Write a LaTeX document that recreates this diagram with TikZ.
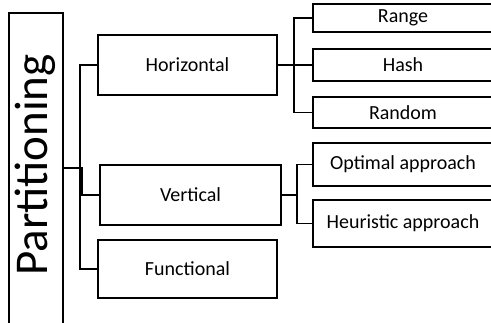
\documentclass[tikz,border=0pt]{standalone}
\usepackage{fontspec}
\setmainfont{Carlito}
\begin{document}
\begin{tikzpicture}[x=1pt,y=-1pt,line width=1.7pt,
  box/.style={draw,line width=1.7pt,inner sep=0pt,font=\fontsize{20}{23}\selectfont},
  conn/.style={line width=1.7pt}]
\useasboundingbox (0,0) rectangle (491,322);
\clip (0,0) rectangle (491,322);
% root
\node[draw,line width=1.7pt,minimum width=54pt,minimum height=340pt,anchor=north west,inner sep=0pt] (part) at (8,12) {};
\node[rotate=90,font=\fontsize{47}{52}\selectfont,inner sep=0pt] (parttext) at (35,165) {Partitioning};
% level 1
\node[box,minimum width=179pt,minimum height=60pt] (hor) at (187.5,65) {Horizontal};
\node[box,minimum width=181pt,minimum height=60pt] (ver) at (190.5,195) {Vertical};
\node[box,minimum width=179pt,minimum height=58pt] (fun) at (187.5,269) {Functional};
% level 2
\node[box,minimum width=180pt,minimum height=28pt] (range) at (403,18) {Range};
\node[box,minimum width=180pt,minimum height=32pt] (hash) at (403,65) {Hash};
\node[box,minimum width=180pt,minimum height=31pt] (random) at (403,112.5) {Random};
\node[box,minimum width=180pt,minimum height=43pt] (opt) at (403,164.5) {Optimal approach};
\node[box,minimum width=180pt,minimum height=47pt] (heu) at (403,223.5) {Heuristic approach};
% bus coordinates
\coordinate (pj) at (part.east |- 0,168);
\coordinate (b1) at (80,168);
\coordinate (b2) at (82,168);
\coordinate (hb) at (294,65);
\coordinate (vb) at (297,195);
% connectors root
\draw[conn] (pj) -- (b1) |- (hor.west);
\draw[conn] (b1) |- (fun.west);
\draw[conn] (pj) -- (b2) |- (ver.west);
% connectors horizontal
\draw[conn] (hor.east) -- (hb);
\draw[conn] (hb) |- (range.west);
\draw[conn] (hb) |- (hash.west);
\draw[conn] (hb) |- (random.west);
% connectors vertical
\draw[conn] (ver.east) -- (vb);
\draw[conn] (vb) |- (opt.west);
\draw[conn] (vb) |- (heu.west);
\end{tikzpicture}
\end{document}
